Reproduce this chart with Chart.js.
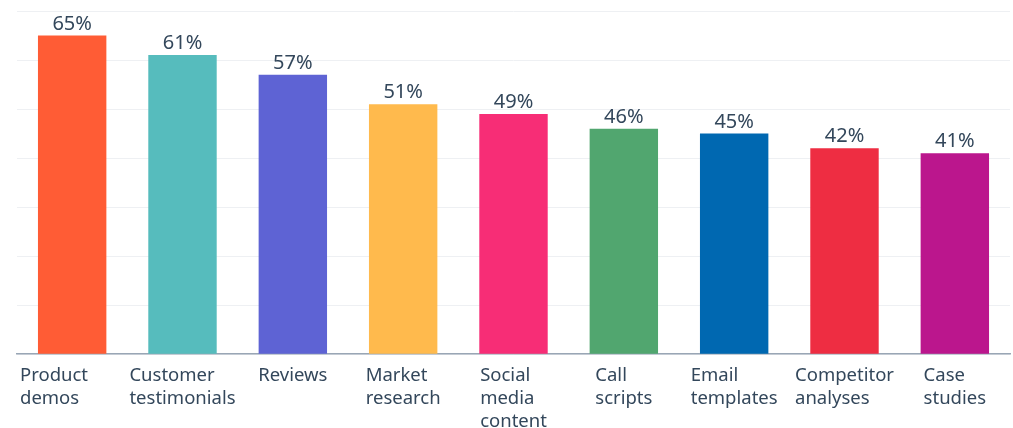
<!DOCTYPE html>
<html>
<head>
<meta charset="utf-8">
<script src="https://cdn.jsdelivr.net/npm/chart.js@4"></script>
<style>
  html, body { margin: 0; padding: 0; background: #fff; }
  #wrap { width: 1013px; height: 428px; position: relative; }
</style>
</head>
<body>
<div id="wrap"><canvas id="myChart"></canvas></div>
<script>
const categories = [
    ['Product', 'demos'],
    ['Customer', 'testimonials'],
    ['Reviews'],
    ['Market', 'research'],
    ['Social', 'media', 'content'],
    ['Call', 'scripts'],
    ['Email', 'templates'],
    ['Competitor', 'analyses'],
    ['Case', 'studies']
];
const shares = [65, 61, 57, 51, 49, 46, 45, 42, 41];
const barColors = [
    '#FF5C35', '#56BCBD', '#5E63D4', '#FFBA4D', '#F72D76',
    '#51A66F', '#0068B1', '#EE2D42', '#BB168D'
];

const textColor = '#33475B';
const fontFamily = '"Noto Sans", sans-serif';
const labelFont = '18.5px ' + fontFamily;

// writes the percentage above each bar
const valueLabels = {
    id: 'valueLabels',
    afterDatasetsDraw(chart) {
        const ctx = chart.ctx;
        const meta = chart.getDatasetMeta(0);
        ctx.save();
        ctx.fillStyle = textColor;
        ctx.font = '20px ' + fontFamily;
        ctx.textAlign = 'center';
        ctx.textBaseline = 'alphabetic';
        meta.data.forEach((bar, i) => {
            ctx.fillText(shares[i] + '%', bar.x, bar.y - 6);
        });
        ctx.restore();
    }
};

// category names: each block centred under its bar, lines left-aligned,
// the first one pinned to the start of the axis
const categoryLabels = {
    id: 'categoryLabels',
    afterDraw(chart) {
        const ctx = chart.ctx;
        const xScale = chart.scales.x;
        ctx.save();
        ctx.fillStyle = textColor;
        ctx.font = labelFont;
        ctx.textAlign = 'left';
        ctx.textBaseline = 'middle';
        categories.forEach((lines, i) => {
            const x = xScale.getPixelForTick(i);
            const w = Math.max(...lines.map(l => ctx.measureText(l).width));
            const left = i === 0 ? xScale.left + 3 : x - w / 2;
            lines.forEach((line, k) => {
                ctx.fillText(line, left, xScale.top + 22 + k * 23);
            });
        });
        ctx.restore();
    }
};

const ctx = document.getElementById('myChart').getContext('2d');
const myChart = new Chart(ctx, {
    type: 'bar',
    data: {
        labels: categories,
        datasets: [{
            data: shares,
            backgroundColor: barColors,
            borderWidth: 0,
            barPercentage: 0.62,
            categoryPercentage: 1
        }]
    },
    options: {
        responsive: true,
        maintainAspectRatio: false,
        animation: false,
        layout: { padding: { left: 17, right: 3, top: 11, bottom: -8 } },
        plugins: {
            legend: { display: false },
            tooltip: { enabled: false }
        },
        scales: {
            x: {
                grid: { display: false },
                border: { color: '#99A6B5', width: 1.5 },
                ticks: {
                    // tick text keeps its room, drawn by categoryLabels
                    color: 'rgba(0,0,0,0)',
                    font: { family: fontFamily, size: 17, lineHeight: 1.33 },
                    padding: 3,
                    autoSkip: false,
                    maxRotation: 0
                }
            },
            y: {
                min: 0,
                max: 70,
                ticks: { display: false, stepSize: 10 },
                border: { display: false },
                grid: { color: '#EEF0F3', lineWidth: 1, drawTicks: false }
            }
        }
    },
    plugins: [valueLabels, categoryLabels]
});
</script>
</body>
</html>
